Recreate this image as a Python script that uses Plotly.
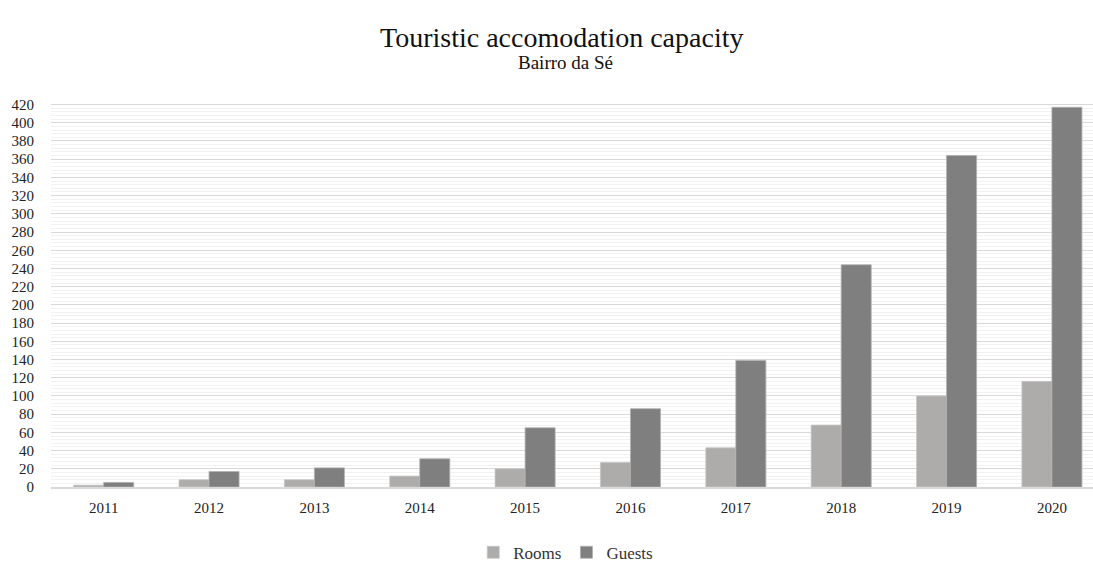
import plotly.graph_objects as go

years = ["2011", "2012", "2013", "2014", "2015", "2016", "2017", "2018", "2019", "2020"]
rooms = [2, 8, 8, 12, 20, 27, 43, 68, 100, 116]
guests = [5, 17, 21, 31, 65, 86, 139, 244, 364, 417]
y_ticks = list(range(0, 421, 20))

FONT = "Liberation Serif"

fig = go.Figure()
fig.add_trace(go.Bar(name="Rooms", x=years, y=rooms, marker=dict(color="#AEABAB", line=dict(color="#C8C6C6", width=0.8))))
fig.add_trace(go.Bar(name="Guests", x=years, y=guests, marker=dict(color="#7F7F7F", line=dict(color="#B0B0B0", width=0.8))))

fig.update_layout(
    width=1093, height=564,
    margin=dict(l=51, r=0, t=100, b=77, autoexpand=False),
    paper_bgcolor="white", plot_bgcolor="white",
    barmode="group", bargap=0.43, bargroupgap=0,
    font=dict(family=FONT, color="#222222", size=13),
    showlegend=True,
    legend=dict(orientation="h", x=0.494, xanchor="center", yref="container", y=0.02, yanchor="middle",
                font=dict(size=17, family=FONT, color="#333333"), itemwidth=30,
                traceorder="normal"),
    annotations=[
        dict(text="Touristic accomodation capacity", xref="paper", yref="paper",
             x=0.490, y=1.0, yshift=63, xanchor="center", yanchor="middle",
             showarrow=False, font=dict(size=28, family=FONT, color="#111111")),
        dict(text="Bairro da Sé", xref="paper", yref="paper",
             x=0.494, y=1.0, yshift=38, xanchor="center", yanchor="middle",
             showarrow=False, font=dict(size=19, family=FONT, color="#111111")),
    ],
)
fig.update_xaxes(type="category", range=[-0.5, 9.39], showgrid=False,
                 showline=True, linecolor="#D9D9D9", linewidth=1.5,
                 ticks="", ticklabelstandoff=6,
                 tickfont=dict(size=15, family=FONT, color="#222222"))
fig.update_yaxes(range=[0, 425], tickvals=y_ticks, showgrid=True, gridcolor="#D9D9D9", gridwidth=1,
                 minor=dict(dtick=4, tick0=0, showgrid=True, gridcolor="#F2F2F2", gridwidth=1),
                 zeroline=False, ticks="", ticklabelstandoff=16,
                 tickfont=dict(size=15, family=FONT, color="#222222"))

fig.write_html("out.html")
